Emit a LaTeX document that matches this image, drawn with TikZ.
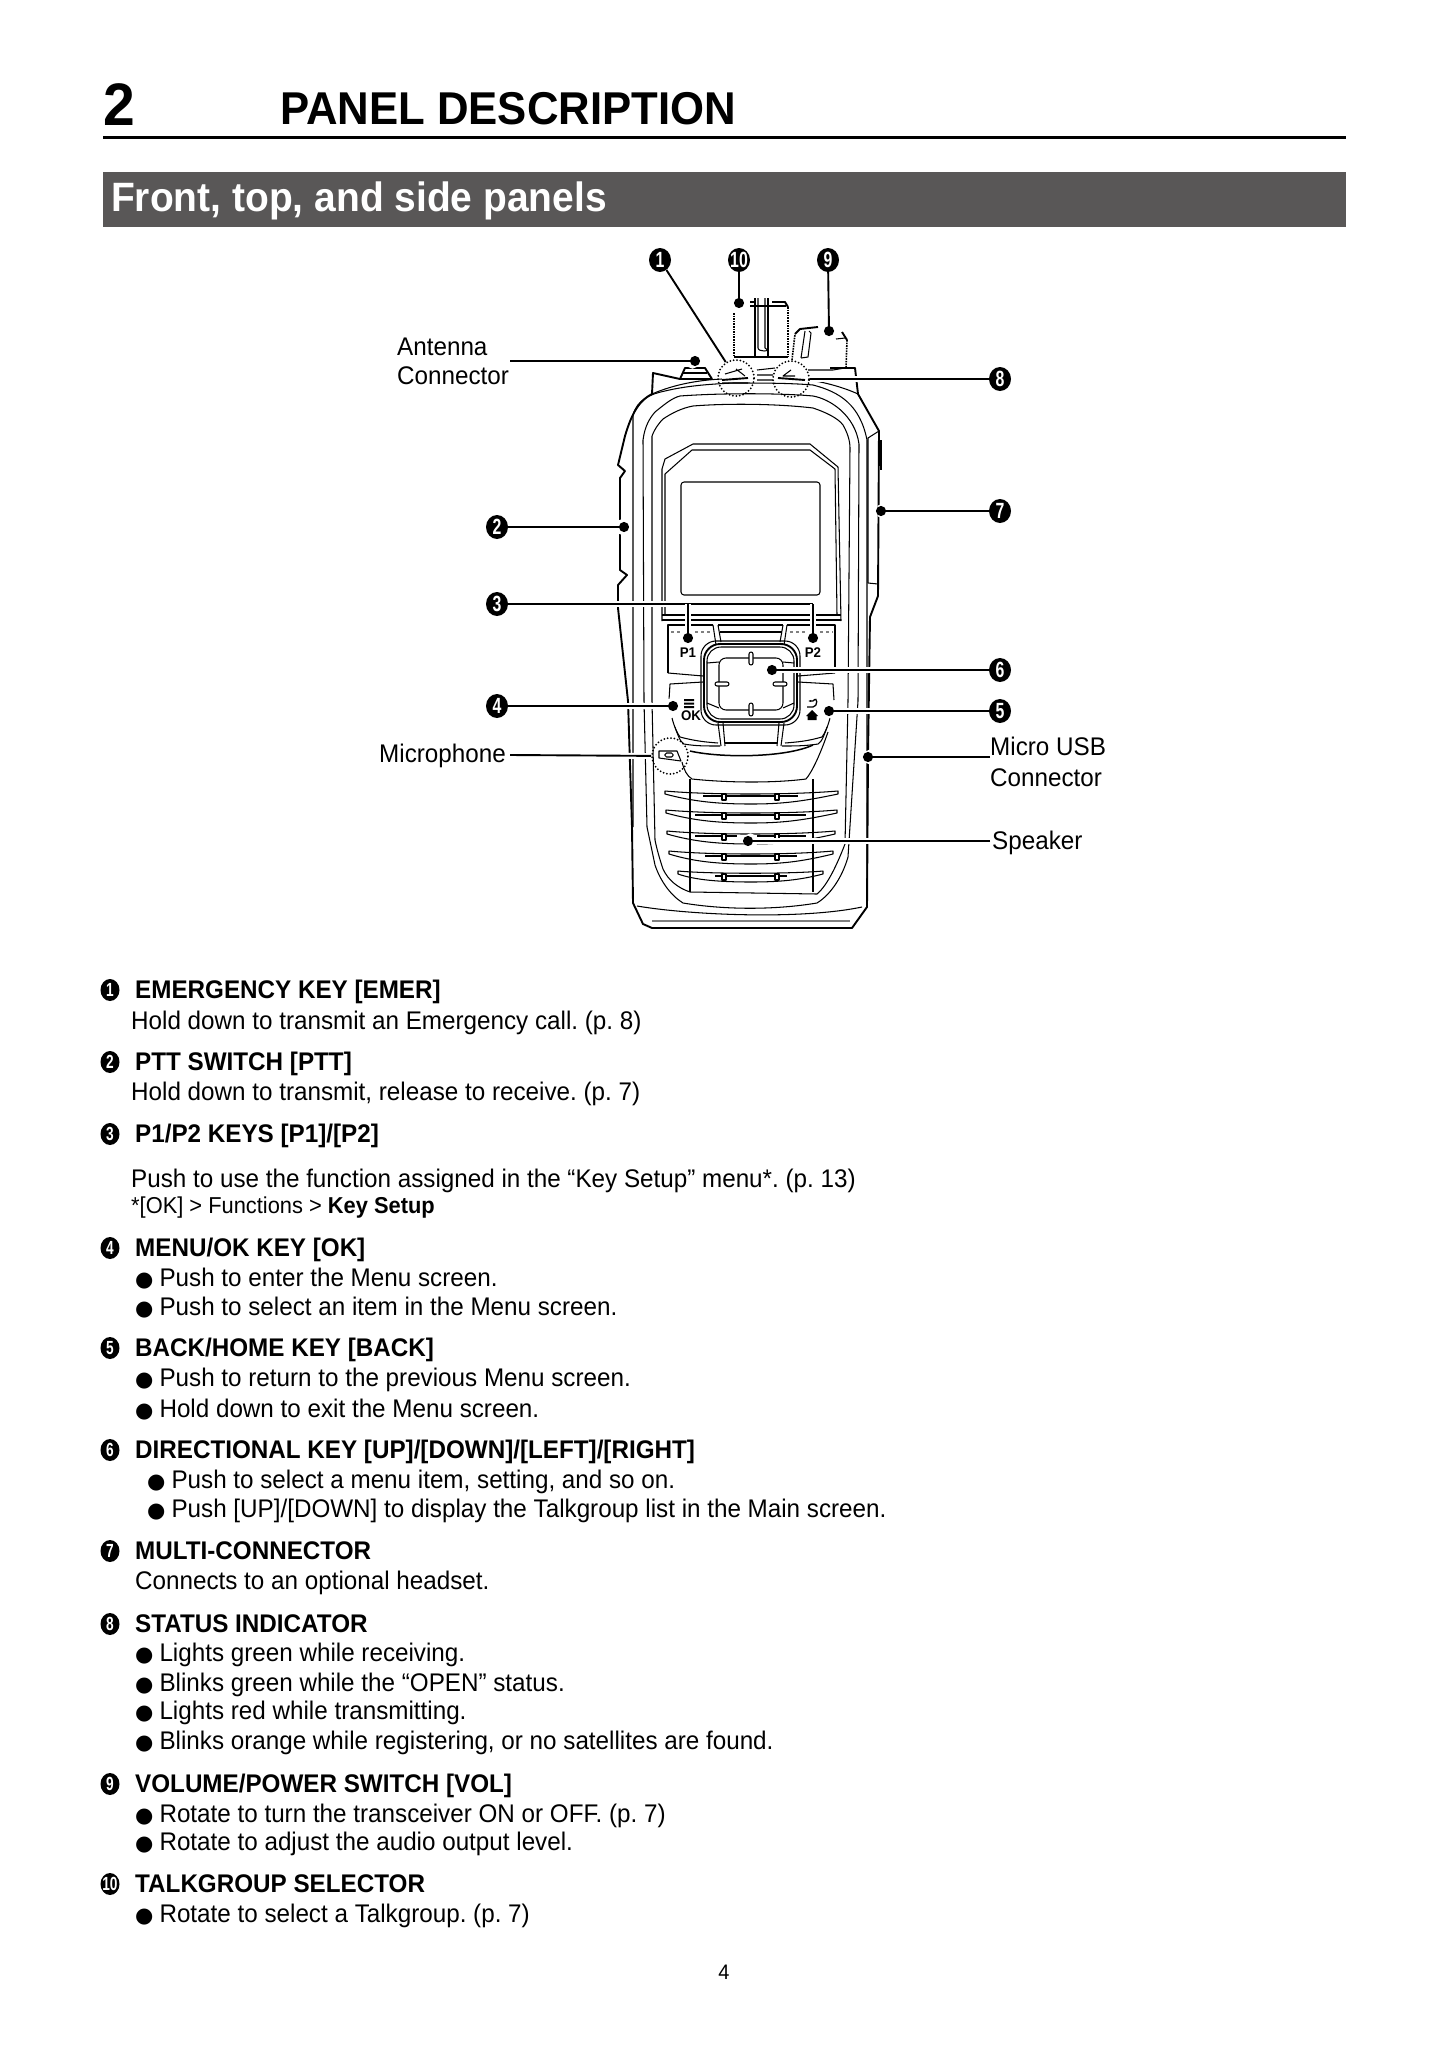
\documentclass[tikz,border=0pt]{standalone}
\usepackage{fontspec}
\setmainfont{Liberation Sans}[FakeStretch=0.95]
\newfontfamily\narrowdigits{Liberation Sans}[FakeStretch=0.72]
\newfontfamily\bulletfont{DejaVu Sans}
\usetikzlibrary{arrows.meta,shapes.geometric}
\definecolor{bandgray}{HTML}{595757}
\newcommand{\bulletmark}{{\fontsize{21}{21}\bulletfont ●}\hspace{6pt}}
\frenchspacing
\tikzstyle{bodytext}=[anchor=base west, inner sep=0pt, font=\fontsize{25.5}{30}\selectfont]
\tikzstyle{headtext}=[anchor=base west, inner sep=0pt, font=\fontsize{25.5}{30}\selectfont\bfseries]
\tikzstyle{smalltext}=[anchor=base west, inner sep=0pt, font=\fontsize{23}{26}\selectfont]
\tikzstyle{keytext}=[inner sep=0pt, font=\fontsize{14}{16}\selectfont\bfseries]
\tikzstyle{bignum}=[ellipse, fill=black, text=white, inner sep=0pt, minimum width=22pt, minimum height=24pt, font=\fontsize{22}{20}\narrowdigits\bfseries]
\tikzstyle{listnum}=[ellipse, fill=black, text=white, inner sep=0pt, minimum width=19pt, minimum height=22pt, font=\fontsize{19}{18}\narrowdigits\bfseries]
\tikzstyle{dotring}=[circle, draw, line width=2pt, line cap=round, dash pattern=on 0pt off 3.4pt, minimum size=36pt, inner sep=0pt]
\tikzstyle{leader}=[line width=1.9pt, shorten >=-5pt, -{Circle[length=10pt]}, preaction={draw=white, line width=6pt, -{Circle[length=15pt]}}]
\tikzstyle{plainleader}=[line width=1.9pt, preaction={draw=white, line width=6pt}]
\tikzstyle{thin line}=[line width=1.05pt, line join=round]
\tikzstyle{heavy line}=[line width=1.9pt, line join=round]
\tikzstyle{knurl line}=[line width=1.6pt, densely dotted]

\begin{document}
\begin{tikzpicture}[x=1pt,y=-1pt]
\useasboundingbox (0,0) rectangle (1449,2048);
%Header
\node[anchor=base west, inner sep=0pt, font=\fontsize{60}{70}\selectfont\bfseries] (chapter) at (103,125) {2};
\node[anchor=base west, inner sep=0pt, font=\fontsize{46}{50}\selectfont\bfseries] (title) at (280,124.5) {PANEL DESCRIPTION};
\draw[line width=3pt] (103,137) -- (1346,137);
\fill[bandgray] (103,172) rectangle (1346,227);
\node[anchor=base west, inner sep=0pt, text=white, font=\fontsize{41}{44}\selectfont\bfseries] (band) at (111,211) {Front, top, and side panels};
%Knobs
\draw[knurl line] (734,313) -- (734,357) (788,307) -- (788,357);
\draw[thin line] (734,357) -- (788,357);
\draw[heavy line] (788,307) -- (785,302) -- (772,302);
\draw[thin line] (750,302) -- (755,302) (750,306) -- (786,306);
\draw[thin line] (755,298) -- (755,357) (768,298) -- (768,357);
\draw[thin line] (758,298) -- (758,348) .. controls +(0,4) and +(7,4) .. (765,348) -- (765,298);
\draw[knurl line] (792,360) -- (795,334);
\draw[heavy line] (795,334) -- (800,329) -- (818,327);
\draw[thin line] (801,358) -- (805,331) (809,331) -- (811,333) -- (808,357) -- (801,358);
\draw[heavy line] (842,332) -- (847,340);
\draw[knurl line] (847,340) -- (846,368);
\draw[thin line] (836,339) -- (845,338);
%Body outline
\draw[heavy line] (652,394) -- (653,373) -- (680,379) -- (685,368) -- (705,368) -- (712,379);
\draw[thin line] (680,379) -- (712,379) (683,373) -- (707,373);
\draw[heavy line] (652,394) .. controls (640,400) and (632,412) .. (625,436) -- (618,465) -- (625,471) -- (620,478) -- (620,570) -- (627,575) -- (618,585) -- (618,608) -- (628,701) -- (632,827) -- (633,903) -- (643,924) -- (652,928) -- (852,928) -- (867,907) -- (868,756) -- (870,617) -- (878,596) -- (879,431) -- (858,394) -- (855,368) -- (830,368);
\draw[thin line] (868,583) -- (868,438) -- (879,431) (868,583) -- (878,584);
\draw[heavy line] (881,440) -- (881,470);
\draw[thin line] (652,394) .. controls (675,384) and (700,380) .. (722,379) (808,380) .. controls (825,382) and (845,388) .. (858,394);
\draw[thin line] (633,827) -- (633,415) .. controls (637,400) and (650,394) .. (665,391) .. controls (690,385) and (715,384) .. (733,383) .. controls (760,383) and (790,383) .. (813,385) .. controls (840,392) and (860,405) .. (867,440) -- (867,907);
%Inner contours
\draw[thin line] (643,440) .. controls (645,425) and (650,418) .. (655,412) .. controls (665,404) and (672,398) .. (680,396) .. controls (720,393) and (780,393) .. (813,396) .. controls (830,399) and (855,415) .. (859,444) -- (858,701) -- (848,857) .. controls (842,878) and (830,895) .. (817,903) .. controls (775,910) and (725,910) .. (683,903) .. controls (670,895) and (660,880) .. (655,865) -- (647,827) -- (644,701) -- (643,440);
\draw[thin line] (652,436) .. controls (655,428) and (660,422) .. (663,419) .. controls (672,413) and (682,408) .. (693,406) .. controls (730,403) and (780,404) .. (813,408) .. controls (825,412) and (838,418) .. (843,425) .. controls (847,432) and (850,440) .. (850,448) -- (848,701) -- (845,844) .. controls (838,862) and (828,885) .. (817,894) -- (690,892) .. controls (678,888) and (668,880) .. (663,869) .. controls (660,860) and (657,850) .. (655,840) -- (652,701) -- (652,436);
%Screen
\draw[thin line, rounded corners=3pt] (681,482) rectangle (820,595);
\draw[thin line] (662,621) -- (662,469) -- (665,459) -- (693,444) -- (810,444) -- (838,467) -- (841,621);
\draw[thin line] (665,615) -- (665,474) -- (692,450) -- (810,450) -- (835,469) -- (837,615);
\draw[thin line] (662,615) -- (841,615) (662,620) -- (841,620);
%Keys
\draw[thin line] (668,673) -- (668,625) -- (713,625) (787,625) -- (835,625) -- (835,673);
\draw[thin line, gray, dashed] (671,632) -- (712,632) (790,632) -- (833,632);
\draw[thin line] (713,625) -- (716,645) (718,625) -- (721,642) (787,625) -- (784,645) (783,625) -- (780,642);
\draw[thin line] (718,625) -- (783,625) (720,632) -- (782,632);
\draw[thin line] (668,673) -- (703,676) (835,673) -- (798,676);
\draw[thin line] (670,684) -- (703,682) (833,684) -- (798,682);
\draw[thin line] (670,684) -- (669,700) (833,684) -- (834,700);
\draw[thin line] (672,718) .. controls (674,726) and (677,733) .. (680,737) .. controls (695,741) and (705,742) .. (718,743);
\draw[thin line] (830,718) .. controls (828,726) and (825,733) .. (822,737) .. controls (808,741) and (798,742) .. (785,743);
\draw[thin line] (675,727) .. controls (677,733) and (680,742) .. (684,744) .. controls (695,746) and (705,746) .. (720,746);
\draw[thin line] (827,727) .. controls (825,733) and (822,742) .. (818,744) .. controls (805,746) and (795,746) .. (782,746);
\draw[thin line] (718,723) -- (721,746) (723,723) -- (725,746) (784,723) -- (781,746) (779,723) -- (777,746);
\draw[thin line] (725,743) -- (777,743);
\draw[line width=1.5pt] (690,751) .. controls (720,758) and (785,758) .. (813,745);
\draw[thin line] (682,762) .. controls (684,770) and (687,776) .. (692,779) .. controls (730,783) and (775,783) .. (806,779) .. controls (812,772) and (820,755) .. (828,732);
\draw[thin line] (690,779) -- (690,892) (813,779) -- (813,892);
%Directional key
\draw[heavy line, rounded corners=16pt] (704,644) rectangle (797,722);
\draw[thin line, rounded corners=15pt] (701,641) rectangle (800,725);
\draw[thin line, rounded corners=14pt] (707,647) rectangle (794,719);
\draw[thin line, rounded corners=7pt] (719,658) rectangle (783,710);
\draw[thin line] (707,663) -- (719,662) (707,703) -- (719,708) (794,663) -- (783,662) (794,703) -- (783,708);
\draw[thin line, fill=white, rounded corners=2pt] (749,652) rectangle (753,665);
\draw[thin line, fill=white, rounded corners=2pt] (749,703) rectangle (753,716);
\draw[thin line, fill=white, rounded corners=2pt] (715,682) rectangle (729,686);
\draw[thin line, fill=white, rounded corners=2pt] (773,682) rectangle (787,686);
%Microphone
\draw[thin line] (659,751) -- (677,751) -- (681,761) -- (659,758) -- cycle;
\draw[thin line, rounded corners=1.5pt] (665,753) rectangle (673,757);
%Speaker
\draw[thin line] (665,791) .. controls (710,795) and (790,795) .. (838,791) -- (838,794) .. controls (800,802) and (780,804) .. (751,804) .. controls (720,804) and (695,802) .. (665,794) -- cycle;
\draw[thin line] (666,810) .. controls (710,814) and (790,814) .. (837,810) -- (837,813) .. controls (800,821) and (780,823) .. (751,823) .. controls (720,823) and (695,821) .. (666,813) -- cycle;
\draw[thin line] (667,831) .. controls (710,835) and (790,835) .. (835,831) -- (835,834) .. controls (800,842) and (780,844) .. (751,844) .. controls (720,844) and (695,842) .. (667,834) -- cycle;
\draw[thin line] (669,851) .. controls (710,855) and (790,855) .. (833,851) -- (833,854) .. controls (800,862) and (780,864) .. (751,864) .. controls (720,864) and (695,862) .. (669,854) -- cycle;
\draw[thin line] (678,871) .. controls (710,874) and (790,874) .. (823,871) -- (823,874) .. controls (800,880) and (780,882) .. (751,882) .. controls (720,882) and (695,880) .. (678,874) -- cycle;
\draw[thin line] (703,796) -- (798,796) (695,815) -- (806,815) (695,836) -- (737,836) (757,836) -- (806,836) (705,856) -- (797,856) (715,876) -- (787,876);
\draw[thin line, fill=white] (722,794) rectangle (726,800) (775,794) rectangle (779,800);
\draw[thin line, fill=white] (722,813) rectangle (726,819) (775,813) rectangle (779,819);
\draw[thin line, fill=white] (722,834) rectangle (726,840) (775,834) rectangle (779,840);
\draw[thin line, fill=white] (722,854) rectangle (726,860) (775,854) rectangle (779,860);
\draw[thin line, fill=white] (722,874) rectangle (726,880) (775,874) rectangle (779,880);
%Bottom
\draw[thin line] (637,906) .. controls (690,915) and (800,920) .. (862,907);
\draw[line width=1.6pt, gray] (652,921) -- (850,921);
%Top band
\draw[thin line] (757,370) -- (775,368) (757,375) -- (773,375) (757,380) -- (773,380);
\draw[thin line] (808,370) -- (833,370) -- (845,368) -- (855,368);
\draw[heavy line] (722,380) -- (748,378);
\draw[thin line] (722,383) -- (748,383) (725,374) -- (742,369) (736,369) -- (745,376);
\draw[heavy line] (778,378) -- (805,380);
\draw[thin line] (791,370) -- (783,376) -- (795,376);
%Nodes
\node[dotring] (emer) at (736,378) {};
\node[dotring] (status) at (791,379) {};
\node[dotring] (micro) at (670,756) {};
\node[bignum] (n1) at (660,260) {\makebox[0pt]{1}};
\node[bignum] (n10) at (739,260) {\makebox[0pt]{10}};
\node[bignum] (n9) at (828,260) {\makebox[0pt]{9}};
\node[bignum] (n8) at (1000,379) {\makebox[0pt]{8}};
\node[bignum] (n7) at (1000,511) {\makebox[0pt]{7}};
\node[bignum] (n6) at (1000,670) {\makebox[0pt]{6}};
\node[bignum] (n5) at (1000,711) {\makebox[0pt]{5}};
\node[bignum] (n2) at (497,527) {\makebox[0pt]{2}};
\node[bignum] (n3) at (497,604) {\makebox[0pt]{3}};
\node[bignum] (n4) at (497,706) {\makebox[0pt]{4}};
\node[bodytext] (antenna) at (397,355) {Antenna};
\node[bodytext] (connector) at (397,384) {Connector};
\node[bodytext] (microphone) at (379,762) {Microphone};
\node[bodytext] (usb) at (990,755) {Micro USB};
\node[bodytext] (usbconn) at (990,786) {Connector};
\node[bodytext] (speaker) at (992,849) {Speaker};
\coordinate (d10) at (739,303);
\coordinate (d9) at (829,331);
\coordinate (d7) at (881,511);
\coordinate (d2) at (624,527);
\coordinate (d3a) at (688,638);
\coordinate (d3b) at (813,638);
\coordinate (j3a) at (688,604);
\coordinate (j3b) at (813,604);
\coordinate (d4) at (673,706);
\coordinate (d6) at (772,670);
\coordinate (d5) at (829,711);
\coordinate (dant) at (695,361);
\coordinate (dmic) at (510,755);
\coordinate (dusb) at (868,757);
\coordinate (dusbend) at (990,757);
\coordinate (dspk) at (748,841);
\coordinate (dspkend) at (990,841);
\coordinate (dantend) at (510,361);
%Lines
\draw[plainleader] (n1) -- (emer);
\draw[leader] (n10) -- (d10);
\draw[leader] (n9) -- (d9);
\draw[plainleader] (n8) -- (status);
\draw[leader] (n7) -- (d7);
\draw[leader] (n2) -- (d2);
\draw[plainleader] (n3) -- (j3b);
\draw[leader] (j3a) -- (d3a);
\draw[leader] (j3b) -- (d3b);
\draw[leader] (n4) -- (d4);
\draw[leader] (n6) -- (d6);
\draw[leader] (n5) -- (d5);
\draw[leader] (dantend) -- (dant);
\draw[plainleader] (dmic) -- (micro);
\draw[leader] (dusbend) -- (dusb);
\draw[leader] (dspkend) -- (dspk);
%Key labels
\node[keytext] (p1label) at (688,653) {P1};
\node[keytext] (p2label) at (813,653) {P2};
\node[keytext] (oklabel) at (691,716) {OK};
\fill (684,699) rectangle (694,701) (684,702.5) rectangle (694,704.5) (684,706) rectangle (694,708);
\draw[line width=1.3pt, -{Latex[length=3pt]}] (807,707) -- (813,707) .. controls +(5,0) and +(5,-6) .. (813,701) -- (808,701);
\fill (812,710) -- (818,716) -- (816.5,716) -- (816.5,720) -- (807.5,720) -- (807.5,716) -- (806,716) -- cycle;
%List
\begin{scope}[yshift=1pt]
\node[listnum] (l1) at (110,991) {\makebox[0pt]{1}};
\node[headtext] (h1) at (135,999) {EMERGENCY KEY [EMER]};
\node[bodytext] (t1) at (131,1030) {Hold down to transmit an Emergency call. (p. 8)};
\node[listnum] (l2) at (110,1063) {\makebox[0pt]{2}};
\node[headtext] (h2) at (135,1071) {PTT SWITCH [PTT]};
\node[bodytext] (t2) at (131,1101) {Hold down to transmit, release to receive. (p. 7)};
\node[listnum] (l3) at (110,1135) {\makebox[0pt]{3}};
\node[headtext] (h3) at (135,1143) {P1/P2 KEYS [P1]/[P2]};
\node[bodytext] (t3) at (131,1188) {Push to use the function assigned in the “Key Setup” menu*. (p. 13)};
\node[smalltext] (t3b) at (131,1214) {*[OK] > Functions > \textbf{Key Setup}};
\node[listnum] (l4) at (110,1249) {\makebox[0pt]{4}};
\node[headtext] (h4) at (135,1257) {MENU/OK KEY [OK]};
\node[bodytext] (t4a) at (135,1287) {\bulletmark Push to enter the Menu screen.};
\node[bodytext] (t4b) at (135,1316) {\bulletmark Push to select an item in the Menu screen.};
\node[listnum] (l5) at (110,1349) {\makebox[0pt]{5}};
\node[headtext] (h5) at (135,1357) {BACK/HOME KEY [BACK]};
\node[bodytext] (t5a) at (135,1387) {\bulletmark Push to return to the previous Menu screen.};
\node[bodytext] (t5b) at (135,1418) {\bulletmark Hold down to exit the Menu screen.};
\node[listnum] (l6) at (110,1451) {\makebox[0pt]{6}};
\node[headtext] (h6) at (135,1459) {DIRECTIONAL KEY [UP]/[DOWN]/[LEFT]/[RIGHT]};
\node[bodytext] (t6a) at (147,1489) {\bulletmark Push to select a menu item, setting, and so on.};
\node[bodytext] (t6b) at (147,1518) {\bulletmark Push [UP]/[DOWN] to display the Talkgroup list in the Main screen.};
\node[listnum] (l7) at (110,1552) {\makebox[0pt]{7}};
\node[headtext] (h7) at (135,1560) {MULTI-CONNECTOR};
\node[bodytext] (t7) at (135,1590) {Connects to an optional headset.};
\node[listnum] (l8) at (110,1625) {\makebox[0pt]{8}};
\node[headtext] (h8) at (135,1633) {STATUS INDICATOR};
\node[bodytext] (t8a) at (135,1662) {\bulletmark Lights green while receiving.};
\node[bodytext] (t8b) at (135,1692) {\bulletmark Blinks green while the “OPEN” status.};
\node[bodytext] (t8c) at (135,1720) {\bulletmark Lights red while transmitting.};
\node[bodytext] (t8d) at (135,1750) {\bulletmark Blinks orange while registering, or no satellites are found.};
\node[listnum] (l9) at (110,1785) {\makebox[0pt]{9}};
\node[headtext] (h9) at (135,1793) {VOLUME/POWER SWITCH [VOL]};
\node[bodytext] (t9a) at (135,1823) {\bulletmark Rotate to turn the transceiver ON or OFF. (p. 7)};
\node[bodytext] (t9b) at (135,1851) {\bulletmark Rotate to adjust the audio output level.};
\node[listnum] (l10) at (110,1885) {\makebox[0pt]{10}};
\node[headtext] (h10) at (135,1893) {TALKGROUP SELECTOR};
\node[bodytext] (t10a) at (135,1923) {\bulletmark Rotate to select a Talkgroup. (p. 7)};
\node[anchor=base, inner sep=0pt, font=\fontsize{21}{24}\selectfont] (page) at (724,1980) {4};
\end{scope}
\end{tikzpicture}
\end{document}
